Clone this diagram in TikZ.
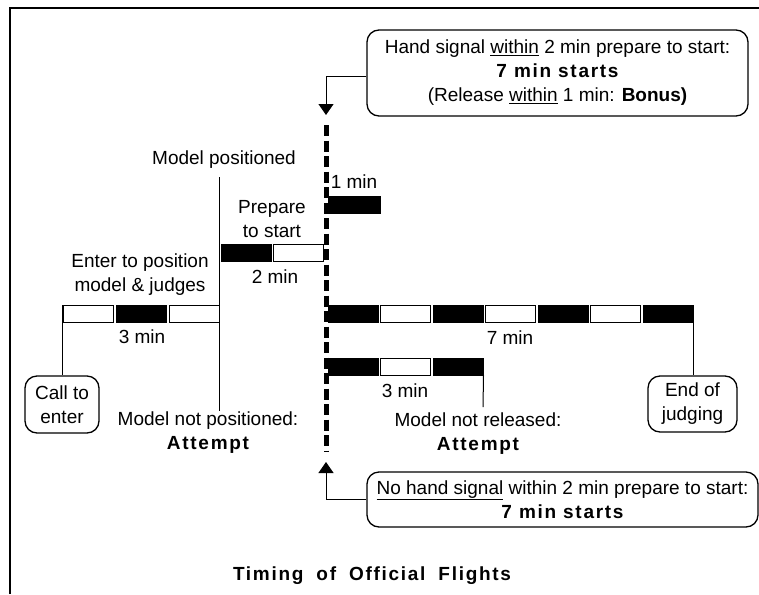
\documentclass[tikz,border=0pt]{standalone}
\usepackage{fontspec}
\setmainfont{Liberation Sans}
\newfontfamily\spacedbf[LetterSpace=9]{Liberation Sans}
\usetikzlibrary{arrows.meta}
\begin{document}
\begin{tikzpicture}[x=1pt,y=-1pt,
  font=\fontsize{19}{24}\selectfont,
  lbl/.style={inner sep=0pt, align=center},
  callout/.style={draw, line width=1.3pt, rounded corners=12pt, inner sep=0pt, align=center},
  wseg/.style={draw, line width=1pt, fill=white, minimum width=50pt, minimum height=17pt, inner sep=0pt},
  bseg/.style={wseg, fill=black},
  link/.style={line width=1pt},
  arr/.style={line width=1pt, -{Triangle[length=11pt,width=15pt]}},
  timeline/.style={line width=5pt, dash pattern=on 11pt off 4.5pt},
  frameline/.style={line width=2pt}]

\useasboundingbox (0,0) rectangle (759,594);
\draw[frameline] (10,594) -- (10,8) -- (759,8);

% call-outs
\node[callout, minimum width=381pt, minimum height=86pt] (hand) at (557.5,73)
  {Hand signal \underline{within} 2 min prepare to start:\\
   {\spacedbf\bfseries 7 min starts}\\
   (Release \underline{within} 1 min: \textbf{Bonus)}};
\node[callout, minimum width=391pt, minimum height=55pt] (nosig) at (562.5,499.5)
  {\underline{No hand signal} within 2 min prepare to start:\\
   {\spacedbf\bfseries 7 min starts}};
\node[callout, minimum width=74pt, minimum height=57pt] (call) at (62,404.5) {Call to\\enter};
\node[callout, minimum width=89pt, minimum height=56pt] (endj) at (692.5,404) {End of\\judging};

% the start line
\coordinate (tltop) at (326,125);
\coordinate (tlbot) at (326,452);
\coordinate (tlin) at (326,115);
\coordinate (tlout) at (326,462);
\draw[timeline] (tltop) -- (tlbot);
\draw[arr] ([yshift=-3pt]hand.west) -| (tlin);
\draw[arr] (nosig.west) -| (tlout);

% 3 min to enter
\node[wseg] (e1) at (88,314) {};
\node[bseg] (e2) at (141,314) {};
\node[wseg] (e3) at (194,314) {};
\draw[link] (e1.north west) -- (e1.north west |- call.north);
\coordinate (mpos) at (219,177);
\coordinate (mnpos) at (219,411);
\draw[link] (mpos) -- (mnpos);

% 2 min prepare to start
\node[bseg] (p1) at (246,252.5) {};
\node[wseg] (p2) at (298,252.5) {};

% 1 min release
\node[bseg, minimum width=52pt] (b1) at (354,204.5) {};

% 7 min
\node[bseg] (s1) at (353,313.5) {};
\node[wseg] (s2) at (405.5,313.5) {};
\node[bseg] (s3) at (458,313.5) {};
\node[wseg] (s4) at (510.5,313.5) {};
\node[bseg] (s5) at (563,313.5) {};
\node[wseg] (s6) at (615.5,313.5) {};
\node[bseg] (s7) at (668,313.5) {};
\draw[link] (s7.south east) -- (s7.south east |- endj.north);

% 3 min to release
\node[bseg] (r1) at (353,366.5) {};
\node[wseg] (r2) at (405.5,366.5) {};
\node[bseg] (r3) at (458,366.5) {};
\coordinate (mnrel) at (483,407);
\draw[link] (r3.south east) -- (mnrel);

% labels
\node[lbl] (enter) at (140,275) {Enter to position\\model \& judges};
\node[lbl] (prep) at (272,219) {Prepare\\to start};
\node[lbl] (twomin) at (275,277) {2 min};
\node[lbl] (posd) at (224,160) {Model positioned};
\node[lbl] (notpos) at (208,433) {Model not positioned:\\{\spacedbf\bfseries Attempt}};
\node[lbl] (threemin) at (142,337) {3 min};
\node[lbl] (onemin) at (354,182) {1 min};
\node[lbl] (sevenmin) at (510,338) {7 min};
\node[lbl] (threeminb) at (405,391) {3 min};
\node[lbl] (notrel) at (478,434) {Model not released:\\{\spacedbf\bfseries Attempt}};
\node[lbl] (title) at (372,576) {\spacedbf\bfseries Timing\hspace{6pt} of\hspace{6pt} Official\hspace{6pt} Flights};
\end{tikzpicture}
\end{document}
